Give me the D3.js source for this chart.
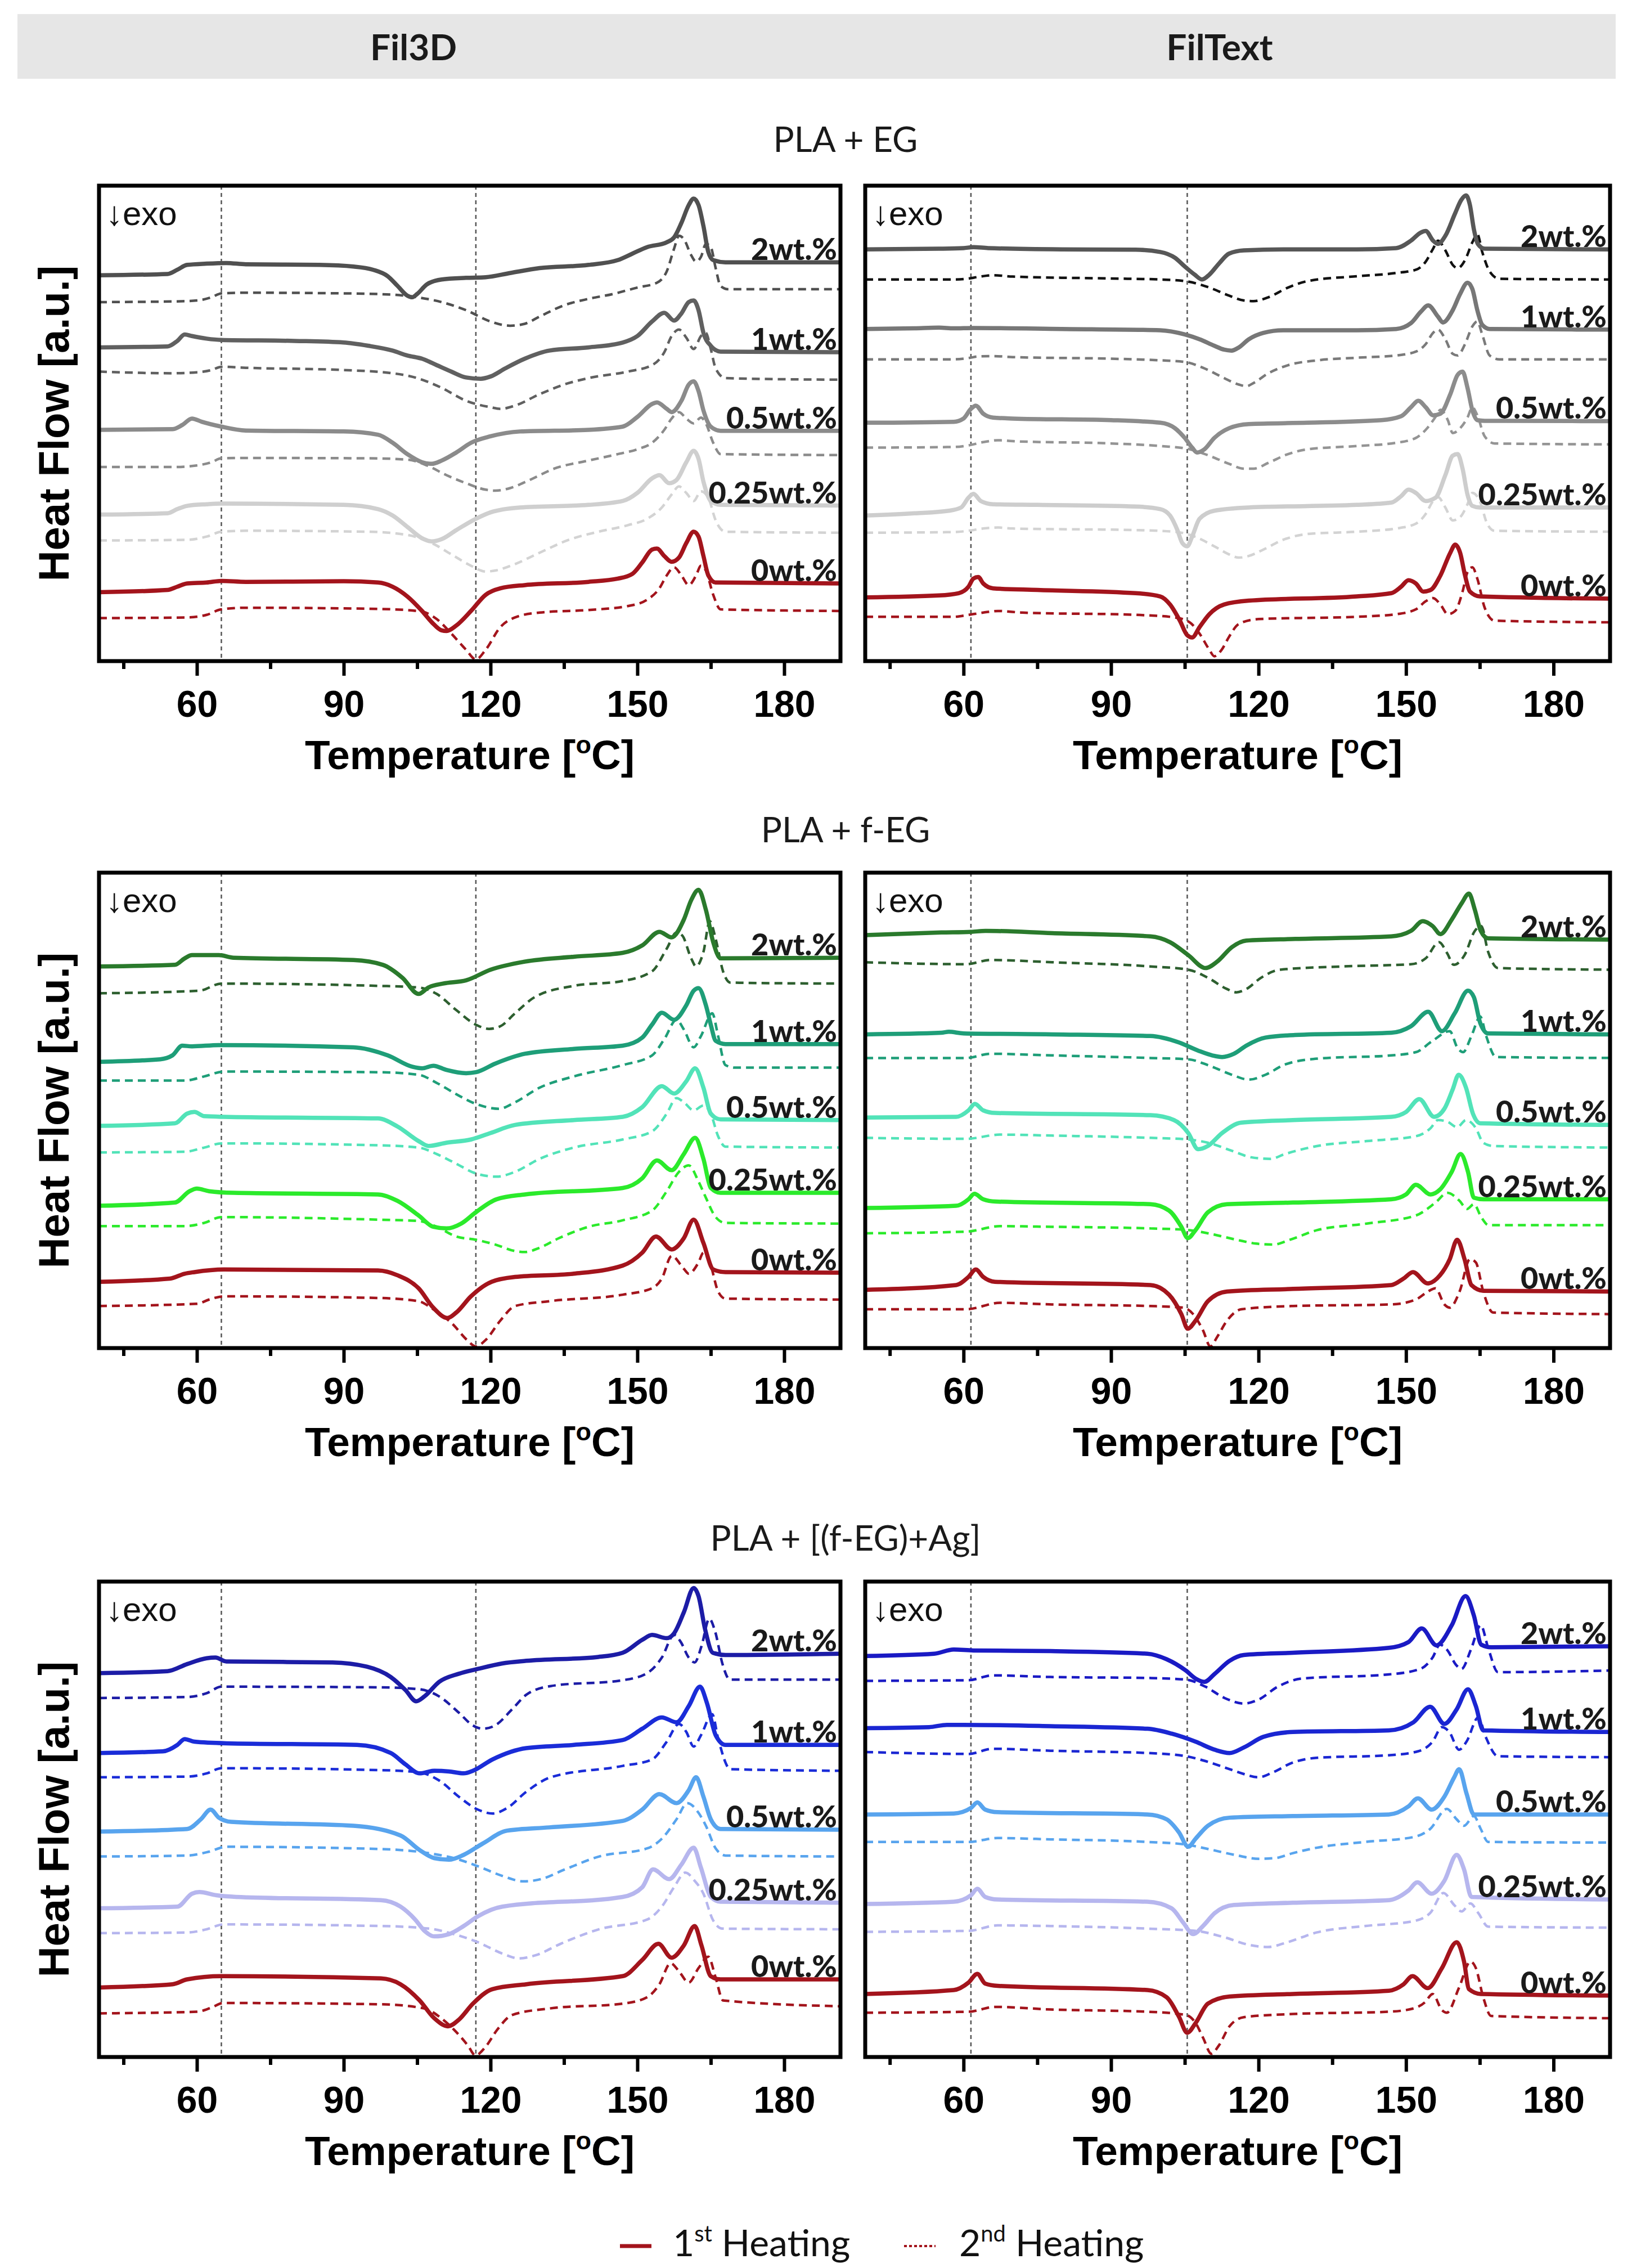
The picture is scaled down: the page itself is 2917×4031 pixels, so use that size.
<!DOCTYPE html>
<html>
<head>
<meta charset="utf-8">
<script src="https://cdn.jsdelivr.net/npm/d3@7"></script>
<style>
  body { margin: 0; background: #fff; }
</style>
</head>
<body>
<div id="chart"></div>
<script>
// ---- labels ----
var filaments = ["Fil3D", "FilText"];
var groups = ["PLA + EG", "PLA + f-EG", "PLA + [(f-EG)+Ag]"];
var loadings = ["2wt.%", "1wt.%", "0.5wt.%", "0.25wt.%", "0wt.%"];
var majorTicks = [60, 90, 120, 150, 180];
var minorTicks = [45, 75, 105, 135, 165];
var refLines = [[65, 117], [61.5, 105.5]];   // Fil3D, FilText

// ---- PLA + EG, Fil3D  [T (degC), heat flow (a.u.)] ----
var eg3d_2_h1 = [[40,119.3],[54,119.7],[56,121],[58,122.5],[62,122.9],[66,123.1],[70,122.7],[85,122.5],[92,122],[96,121],[99,119],[101,116],[103,113],[104,112.5],[105,113.5],[107,116.5],[110,118],[115,118.5],[119,118.7],[124,120],[130,121.5],[140,122.5],[146,124],[149,126],[152,128],[156,129.5],[157.5,131],[159,135.5],[160.5,141],[161.5,143],[162.5,141],[163.5,134.5],[164.5,126.5],[165.5,124],[168,123.3],[191.5,123.3]];
var eg3d_2_h2 = [[40,111],[55,111.2],[60,111.5],[63,112.5],[65,113.7],[70,113.9],[90,113.7],[100,113.3],[105,112.5],[110,111],[115,108.5],[120,105],[124,103.7],[127,104.3],[130,106.5],[135,110],[140,112],[145,113.5],[150,115.5],[154,117],[156,120.5],[157.5,127.5],[158.5,131.5],[159.5,130.5],[161,125.5],[162,123.5],[163,125],[164,129],[165,128],[166,121.5],[167,116],[168.5,115],[191.5,115]];
var eg3d_1_h1 = [[40,97],[54,97.3],[56,99],[57.5,101],[59,100.5],[62,99.7],[65,99.3],[80,99],[90,98.5],[95,97.5],[100,96],[103,94.5],[106,93.5],[109,91.5],[112,89.5],[115,87.7],[118,87.3],[120,88],[123,90.5],[127,93.5],[132,96],[140,97],[147,98.5],[150,100.5],[153,105],[155.5,107.7],[157.5,105.3],[159,107.5],[160.5,111],[161.5,111.5],[162.5,108.5],[163.5,101.5],[165,97.5],[167,95.7],[191.5,95.5]];
var eg3d_1_h2 = [[40,89.5],[55,89],[60,89.3],[63,90],[65,91],[70,90.7],[90,90],[100,89],[105,87.5],[110,84.5],[115,80.5],[120,78.5],[122,78],[125,79],[130,82.5],[135,85.5],[140,87.5],[148,89.5],[153,91.5],[155.5,95.5],[157,100.5],[158.5,102.5],[160,100],[161.5,96.5],[163,100.5],[164,101.5],[165,96.5],[166,90.5],[168,87.5],[191.5,87]];
var eg3d_05_h1 = [[40,71.5],[55,71.7],[57,73],[59,75],[61,74],[65,72.5],[70,71.3],[90,71],[97,70],[100,67.5],[103,64],[106,61.5],[108,61],[110,62],[113,64.5],[116,67.5],[120,69.5],[126,71],[140,71.5],[147,72.5],[150,75.5],[153,79.5],[154,80],[156,78],[157,77],[159,80.5],[160.5,85.5],[161.5,86.5],[162.5,83.5],[163.5,77.5],[165,72.5],[167,71.2],[191.5,71.2]];
var eg3d_05_h2 = [[40,60],[55,60],[60,60.5],[63,61.5],[65,62.7],[70,62.8],[95,62.7],[103,62.3],[107,60.5],[111,57.5],[115,55],[119,53],[121,52.7],[124,53.5],[128,56],[133,59.5],[140,62],[146,64],[150,65.5],[153,67.5],[155.5,71.5],[157,75],[158.5,77],[160,75],[161.5,73.5],[163,75.3],[164,73.5],[165.5,67.5],[167,64],[191.5,63.7]];
var eg3d_025_h1 = [[40,45.3],[54,45.7],[56,47],[58,48],[62,48.5],[65,48.7],[90,48.3],[97,47],[100,45],[103,41.5],[106,38],[108,37],[110,37.7],[113,40.5],[117,44],[120,46],[126,47.5],[140,48.3],[147,49.5],[150,52],[153,56.5],[154.5,57.5],[156.5,55],[158,56],[160,61.5],[161.5,65],[162.5,62.5],[163.5,55.5],[165,49.5],[167,48.3],[191.5,48.1]];
var eg3d_025_h2 = [[40,37.3],[58,37.5],[62,38.5],[65,40],[70,40.3],[95,40],[103,39],[108,36.5],[112,33],[116,29.5],[119,27.7],[121,28],[125,30],[130,33.5],[136,37.5],[142,40],[148,42],[152,44],[155,47.5],[157,51.5],[158.5,54],[160,52],[161.5,49.5],[163,52.5],[164.5,50.5],[166,43.5],[168,40],[191.5,39.7]];
var eg3d_0_h1 = [[40,21.3],[54,22],[56,23],[58,24],[62,24.3],[65,24.8],[70,24.5],[90,24.7],[97,24.3],[100,23],[103,20],[106,15.5],[108,12],[110,9.5],[111,9.3],[113,11],[116,15.5],[119,20.5],[122,22.5],[127,23.5],[140,24.5],[146,25.5],[149,27],[151,30.5],[153,34.5],[154,34.8],[155.5,32.5],[157,30.7],[158.5,32],[160,36.5],[161.5,40],[162.5,38.5],[163.5,32.5],[164.5,26.5],[166,24.3],[191.5,24]];
var eg3d_0_h2 = [[40,13.3],[58,13.5],[62,14.3],[65,16],[70,16.5],[90,16.3],[100,16],[106,15.3],[109,13],[112,8.5],[115,3.5],[117,0.5],[119,3.5],[122,10.5],[125,13.5],[130,15],[140,15.8],[148,17],[152,19],[154.5,22.5],[156,26.5],[157.5,29],[159,26.5],[160.5,23.5],[162,26.5],[163,29.5],[164,28],[165.5,20.5],[167,16],[191.5,15.5]];

// ---- PLA + EG, FilText ----
var egtx_2_h1 = [[40,127.3],[55,127.5],[60,127.7],[62,128],[65,127.7],[80,127.3],[95,127.2],[100,126.5],[103,124.7],[105,122],[107,119.5],[108.5,118],[110,119.5],[112,123],[114,126],[117,127],[125,127.3],[140,127.3],[148,127.7],[151,130],[153,132.5],[154,133],[155.5,130],[156.5,129],[158,131.5],[160,138.5],[161.2,142.5],[162.2,144],[163,141],[163.8,133.5],[164.6,129],[166,127.5],[191.5,127.3]];
var egtx_2_h2 = [[40,118],[58,118],[61,118.3],[63,118.8],[66,119.3],[70,118.9],[90,118.3],[100,118],[105,117.5],[110,115.5],[114,113],[117,111.5],[119,111.3],[122,112.5],[126,115.5],[130,117.5],[140,119],[148,120],[152,121],[154,123.5],[155.5,127.5],[156.5,130],[158,127],[159.5,122.5],[160.5,121.5],[162,124],[163.5,129.5],[164.5,132],[165.5,126.5],[167,120.5],[169,118.2],[191.5,118]];
var egtx_1_h1 = [[40,102.7],[50,102.9],[55,103.1],[58,102.9],[62,103],[80,102.7],[100,102.3],[105,101],[108,99.5],[111,97.5],[113,96.3],[114.5,96],[116,97],[118,99.5],[121,101.5],[125,102.3],[140,102.3],[148,102.7],[151,104.5],[153,108],[154.5,110],[156.5,106.5],[157.5,104.7],[159.5,108.5],[161,113.5],[162.5,117],[163.5,115],[164.5,108.5],[165.5,104],[167,102.7],[191.5,102.5]];
var egtx_1_h2 = [[40,93.3],[58,93.3],[61,93.7],[63,94.2],[66,94.3],[70,94],[90,93.5],[100,93],[105,92.5],[109,90.5],[113,87.5],[116,85.5],[117.5,85],[119,86],[122,89],[126,91.5],[132,93],[140,93.8],[148,94.5],[152,95.7],[154,98],[155.5,101.5],[156.5,102.5],[158,99.5],[159.5,95],[160.5,94.5],[162,98],[163.5,103.5],[164.5,105],[165.5,101],[167,94.5],[169,93.3],[191.5,93.3]];
var egtx_05_h1 = [[40,73.7],[58,74],[60,75],[61.5,78],[62.5,79],[64,76.5],[66,75.3],[70,75],[90,74.5],[100,73.7],[103,72],[105,69],[106.5,66],[107.5,64.5],[109,65.5],[111,69],[114,72],[118,73.3],[130,73.7],[145,74.5],[149,75.7],[151,78.5],[152.5,80.5],[154,78.5],[155.5,76],[157,76.5],[159,82.5],[160.5,88.5],[161.5,89.5],[162.5,84.5],[163.5,77.5],[164.5,74.5],[166,74.3],[191.5,74.2]];
var egtx_05_h2 = [[40,66],[58,66.2],[61,66.7],[64,67.7],[67,68.3],[70,68],[90,67.3],[100,66.5],[106,65.5],[110,63.5],[114,61],[117,59.5],[119,59.5],[122,61.3],[126,64],[130,65.5],[140,66.5],[148,67.5],[152,69],[154,71.5],[156,75.5],[157,77.7],[158.5,74.5],[159.5,70.5],[161,72],[162.5,75.3],[163.5,78.5],[164.5,76],[166,69.5],[168,67.3],[191.5,67]];
var egtx_025_h1 = [[40,45],[50,45.7],[57,46.5],[59.5,47.5],[61,50.5],[62,51.7],[63.5,49.5],[66,48.5],[75,48.3],[95,47.8],[100,47],[102,45],[103.5,40.5],[104.5,36.5],[105.5,35.5],[106.5,38.5],[108,44],[111,46.5],[118,47.5],[140,48.3],[147,49],[149,51],[150.5,53],[152,52],[154,49.5],[156,50.5],[158,57.5],[159.5,63.5],[160.5,64],[161.5,59.5],[162.5,51.5],[163.5,48],[165,47.5],[191.5,47.5]];
var egtx_025_h2 = [[40,39.7],[58,39.9],[61,40.3],[64,41],[67,41.3],[70,41],[95,40.5],[103,40],[107,38.5],[111,35.5],[114,33],[116,32],[118,32.5],[121,34.5],[125,37.5],[130,39.3],[140,40],[148,41],[152,42.5],[154,45.5],[155.5,49.5],[156.5,50.7],[158,47.5],[159.5,43.5],[161,44.5],[162.5,48.5],[163.5,52],[165,49.5],[166.5,42.5],[168,40.3],[191.5,40]];
var egtx_0_h1 = [[40,19.7],[55,20.3],[59,21],[61,23],[62,25.5],[63,26],[64,24],[66,22.5],[75,22],[95,21],[100,20],[102,17.5],[104,12.5],[105.5,8],[106.5,7.3],[108,10.5],[110,14.5],[113,17.5],[118,18.7],[140,20],[147,21],[149,23],[150.5,25],[152,24],[153.5,21.5],[155,22],[157,26.5],[159,33.5],[160,36],[161,33.5],[162,26.5],[163,21.5],[165,20],[191.5,19.3]];
var egtx_0_h2 = [[40,13.7],[58,13.7],[61,14.3],[64,15],[67,15.5],[72,15],[95,14.3],[103,13.5],[106,12],[108,8.5],[110,3.5],[111,1.5],[112.5,3.5],[114,7.5],[116,11.5],[120,13],[140,13.7],[148,14.5],[152,16],[154,18.5],[155.5,19.5],[157,17.5],[158.5,14.5],[160,15.5],[161.5,21.5],[162.5,27.5],[163.5,29],[164.5,25.5],[166,16.5],[168,12.5],[191.5,12]];

// ---- PLA + f-EG, Fil3D ----
var feg3d_2_h1 = [[40,118],[55.5,118.5],[57.5,120.5],[59,121.5],[64.5,121.5],[67.5,120.7],[92,120],[98,118.5],[102,114.5],[105.3,109.5],[107.3,111.5],[110.3,112.7],[115,113.7],[120,117],[127,119.5],[137,121],[147,122.2],[151,124.5],[154.5,128.7],[157,127],[159.5,132.5],[161,138.5],[162.5,141.7],[164,135.5],[165.5,125.5],[167,120.5],[191.5,120.7]];
var feg3d_2_h2 = [[40,109.7],[60.5,110.5],[65,112.7],[97,112],[105.3,111.5],[109,109.5],[113,104.5],[117,100],[119.7,98.7],[122,99.5],[125,103.5],[129,108.5],[137,112],[147,113.5],[153,116.5],[156,123.5],[158,128.5],[159.2,127.5],[161,120.5],[162,118],[163.5,122.5],[164.8,132],[166,126.5],[167.5,116.5],[169,113],[191.5,112.7]];
var feg3d_1_h1 = [[40,88.5],[52.5,89.3],[55,90.5],[57,93.5],[59,93.3],[64.5,93.7],[92,93],[99,90.5],[104,87],[106,86.5],[108.3,87.3],[111,86],[115,85],[117,85.3],[121,88],[127,91],[137,92.5],[147,93.5],[151,96],[153,100],[155,103.7],[157.5,101.5],[160,106],[161.5,110.5],[162.5,111.3],[164,106],[165,100],[166,95],[168,94],[191.5,94]];
var feg3d_1_h2 = [[40,82.7],[57.5,82.7],[61.5,84],[65.5,85.5],[97,85.3],[105.3,84.5],[109,82],[113,78.5],[117,75.5],[121.7,74],[125,76],[130,80.5],[137,84],[147,87.5],[153,90.5],[155.5,95.5],[158,101.5],[159.5,98.5],[161.5,93],[163,96.5],[165.3,103.5],[166.5,96.5],[168,87.5],[170,86.7],[191.5,86.7]];
var feg3d_05_h1 = [[40,68.7],[55.5,69.5],[58,72.5],[59.5,73],[61.5,71.7],[65.5,71.5],[97,71],[101,68.5],[105.3,64],[107.3,62.5],[111,63.5],[116,64.5],[120,66.5],[125,69],[137,70.5],[147,71.5],[151,74.5],[155,81],[157.5,78.7],[160,82.5],[161.8,86.5],[163.5,80.5],[165,72.5],[167,70.7],[191.5,70.5]];
var feg3d_05_h2 = [[40,60.5],[57.5,60.7],[61.5,62],[65,63.3],[97,62.7],[105.3,62],[109,60],[113,57],[117,54],[121.2,53],[125,54.5],[130,58.5],[137,62],[147,64.5],[153,67],[156,72.5],[158,77.3],[159.5,76],[161.5,73.5],[163.5,75],[165,72.5],[166.5,65.5],[168,62.3],[191.5,62]];
var feg3d_025_h1 = [[40,44],[55.5,45],[58.5,48.5],[60,49.3],[62.5,48.5],[67.5,48],[97,47.5],[101,45.5],[105.3,41],[108.3,37.5],[111,37],[114,38.5],[117,42],[121.2,46],[127,47.5],[147,49.5],[151,52.5],[154,58],[157,55],[159.5,60],[161.8,65],[163.5,58.5],[165,49.5],[167,48],[191.5,48]];
var feg3d_025_h2 = [[40,37.7],[57.5,37.7],[61.5,38.7],[65,40.5],[97,39.7],[105.3,39.3],[109,37.5],[113,34.5],[117,33.5],[121,32],[125,30],[127,29.7],[130,31],[134,34],[140,37.5],[147,39.5],[153,42.5],[156,48.5],[158.5,54.5],[160.5,56.5],[162.5,51.5],[164,46.5],[166,40.5],[168,38.7],[191.5,38.5]];
var feg3d_0_h1 = [[40,20.5],[54.5,21.5],[57.5,23],[59.5,23.5],[65.5,24.3],[97,24],[101,22.5],[105.3,18.5],[108.3,12.5],[111.2,9.3],[113,11],[116,16],[120.2,20.5],[125,22],[137,23],[147,25.5],[151,29.5],[153.8,34.5],[157,30.5],[159.5,34],[161.5,39.7],[163.5,32.5],[165.5,24.3],[168,23.5],[191.5,23.3]];
var feg3d_0_h2 = [[40,13],[60,13.7],[62.5,15],[65.5,16],[97,15.5],[105.3,14.5],[108.3,12],[112.2,7.5],[115.2,2.5],[117,0.5],[119,2.5],[122,8.5],[125,13],[132,14.5],[147,16.5],[153,18.5],[155,21.5],[157,28.5],[159.5,24.5],[160.5,23],[162.5,26.5],[163.5,29.5],[165,25.5],[166.5,17.5],[168,15.3],[191.5,15]];

// ---- PLA + f-EG, FilText ----
var fegtx_2_h1 = [[40,127.7],[55.5,128.5],[61.5,128.7],[64.5,129],[78,128.3],[98,127.3],[102,125.5],[105.7,121.5],[109.2,117.5],[111.6,119.5],[114.6,124],[117.5,126],[127.5,126.5],[147,127.3],[151,129],[153.4,132],[155.4,130.5],[157,128],[159.3,132.5],[161.3,137.5],[162.8,140.5],[164,135.5],[165.2,129],[166.7,126.7],[191.5,126.3]];
var fegtx_2_h2 = [[40,119.3],[60.5,118.7],[65.5,120],[78,119.3],[98,118],[105.7,117],[109.7,114.5],[113.6,111],[115.5,110],[117.5,111],[120.5,114.5],[124.4,117],[137,118],[151,118.7],[154,120.5],[156.7,125.5],[158.4,122],[159.7,118.5],[161.9,121.5],[164,129],[165.3,130.5],[166.7,122.5],[168.7,117.5],[191.5,117]];
var fegtx_1_h1 = [[40,97],[55.5,97.5],[57,97.8],[60,97.3],[78,97],[98,96.5],[103.8,94.5],[107.7,92],[110.6,90.5],[112.6,90],[115,91],[117.5,93.5],[121.4,96],[127.4,96.8],[147,97.5],[151,99.5],[154.5,104],[157.3,98],[159.9,103.5],[162.6,110.5],[163.8,108.5],[165.1,100.5],[166.7,97.3],[191.5,97]];
var fegtx_1_h2 = [[40,89.7],[60.5,89.7],[65.5,91],[78,90.5],[98,89.7],[105.7,89.3],[109.7,87.5],[114.6,84.5],[118,83],[121.4,84.5],[125.4,87.7],[132,89.5],[147,90.5],[152,91.5],[155.4,95],[158.9,98],[160.4,93],[161.6,91.5],[163.3,96.5],[165.1,102.5],[166.3,96.5],[168.3,90],[191.5,89.7]];
var fegtx_05_h1 = [[40,71.3],[58.5,71.5],[61,73.5],[62.3,75.5],[64,73.5],[66.4,72.7],[98,72],[102.8,70.5],[105.7,66.5],[107.7,61.5],[109.7,62.5],[112.6,66.5],[116.5,69.7],[127,70.5],[147,71.5],[150,73],[152.7,77],[155.7,71.5],[157.8,74],[159.5,80],[160.7,84.5],[162.2,80.5],[163.6,72.5],[165.1,69.5],[191.5,69]];
var fegtx_05_h2 = [[40,65],[60.5,64.7],[67.4,66],[78,65.7],[98,65],[105.7,64.5],[109.7,63.5],[114.6,61],[118.5,59],[122.4,58.5],[125.4,60],[132,62.5],[142,64],[152,65.5],[155,68],[156.5,70.5],[158.4,70],[160.4,68.3],[162.2,70.5],[164.2,68],[165.7,63.5],[167.7,62.5],[191.5,62]];
var fegtx_025_h1 = [[40,43.3],[58.5,44],[61,46],[62.2,47.7],[64,46],[66.5,45.3],[98,44.5],[101.8,42.5],[104.3,37.5],[105.6,34],[107.2,36.5],[109.7,42],[113.6,44.5],[127,45],[147,46],[150,47.5],[152,50.5],[155,47.5],[156.9,49],[159.3,54.5],[161.1,60],[162.6,54.5],[163.8,46.5],[165.8,46],[191.5,46]];
var fegtx_025_h2 = [[40,35.5],[60.5,36],[67.4,37.7],[78,37.5],[98,37],[105.7,36.5],[109.7,35.5],[115.5,33.5],[119.5,32.3],[123,32],[126.4,33.5],[132,36.5],[142,38.5],[152,41],[156,45],[158.4,48],[160.9,45.5],[162.4,43],[163.8,44.5],[165.3,40.5],[166.8,38],[191.5,38]];
var fegtx_0_h1 = [[40,18],[58.5,19.5],[61,22],[62.5,24.3],[64,22],[66.4,20.5],[98,19.5],[101.8,16.5],[104.3,10.5],[105.6,6],[107.2,8.5],[109.7,14.5],[113.6,17.5],[127,18.3],[147,19.5],[149.5,21.5],[151.4,23.5],[154.4,20],[156.9,22.5],[158.9,27.5],[160.4,33.5],[161.9,27.5],[163.3,19.5],[165.8,17.7],[191.5,17.5]];
var fegtx_0_h2 = [[40,12],[60.5,12],[67.4,14],[78,13.5],[98,13],[104.7,12.5],[106.7,10.5],[108.7,5.5],[110.2,0.5],[111.6,3.5],[113.6,8.5],[116.5,12],[127,13],[147,13.5],[152,15],[154,17],[156,18.5],[157.8,13.5],[158.9,12.5],[160.9,17.5],[163,27.5],[164.2,26.5],[165.7,17.5],[167.7,11],[191.5,10.5]];

// ---- PLA + [(f-EG)+Ag], Fil3D ----
var ag3d_2_h1 = [[40,118.7],[54,119.3],[58,121.5],[62,123.3],[63.8,123.5],[66,122.3],[87.7,122],[94.7,120.7],[99.6,117.5],[102.6,113.5],[104.8,110],[106.5,111.5],[109.5,116],[113.5,118.5],[117.4,120],[122.4,121.7],[127.3,122.5],[142,123.7],[147,125],[151,129],[153,130.5],[156,129.5],[157.5,131],[159.5,137.5],[161.5,145],[162.5,142.5],[163.8,132.5],[165.4,125],[168,124.3],[191.5,124.7]];
var ag3d_2_h2 = [[40,111],[58,111.3],[62,112.5],[65,114.5],[97.6,114.3],[105.5,113.7],[109.5,111.5],[113.5,106.5],[116.4,102.5],[118.4,101.5],[120.9,102.5],[124.4,107.5],[127.3,112],[132.3,114.7],[147,116.5],[152,118.7],[155,123.5],[157.5,130.5],[158.8,128.5],[160.5,123.5],[161.7,122],[163.1,127],[164.7,135.5],[165.9,131.5],[167.4,121.5],[168.9,116.7],[191.5,116.7]];
var ag3d_1_h1 = [[40,94],[53,94.5],[56,96.5],[57.5,98.3],[59.5,97.5],[66,97],[92.7,96.5],[99.6,94],[102.6,90.5],[105.5,87.7],[108.5,88.5],[111.5,88.3],[114.5,87.7],[116.4,88.5],[120.4,92],[127.3,95.5],[137,96.5],[147,98],[151,101.5],[155,105],[158,103.5],[160.5,108.5],[162.8,114.5],[164.2,109.5],[166,99.5],[168,96.5],[191.5,96.5]];
var ag3d_1_h2 = [[40,86.5],[58,86.7],[62,87.7],[65,89.3],[97.6,88.7],[105.5,88],[109.5,85.5],[113.5,80.5],[117.4,76.5],[120.4,75.3],[123.4,77],[127.3,82],[132.3,86.5],[147,90],[153,92],[156,97.5],[158.5,103],[160,100.5],[161.5,96],[163,99.5],[165.3,106],[166.5,98.5],[169,89],[191.5,88.5]];
var ag3d_05_h1 = [[40,69.7],[58,70.5],[60.8,73.5],[62.8,76.5],[64.5,74],[67,72.7],[92,71.5],[101.6,68.5],[105.5,64],[108.5,61.5],[111.5,61],[114.5,62.5],[118.4,66],[123.4,70],[132,71],[147,73],[151,76.5],[154.5,81.3],[158,78.5],[160.5,82.5],[162,86.5],[163.5,80.5],[165,73.5],[167,70.5],[191.5,70.3]];
var ag3d_05_h2 = [[40,62],[58,62.3],[62.5,63.5],[66,65],[97.6,64.3],[107.5,63],[112.5,61.5],[117.4,59],[122.4,56],[126.8,54.3],[130.3,55],[135.2,58],[142.2,62],[152,64.5],[155,67.5],[158,73.5],[160.2,78.5],[162.5,75.5],[164,71.5],[166,64.5],[168,62.3],[191.5,62]];
var ag3d_025_h1 = [[40,46],[56,46.5],[59,50.5],[60.5,51],[64,50],[68,49.5],[97.6,48.5],[101.6,46.5],[104.6,42.5],[106.5,39],[108.5,37.3],[111.5,38],[114.5,40.5],[117.4,43.5],[122.4,46.5],[147,49.5],[151,52.5],[153.2,58],[156.5,55],[159,59.5],[161.5,64.7],[163,58.5],[165,49.5],[167,48],[191.5,47.7]];
var ag3d_025_h2 = [[40,38.3],[58,38.5],[62,39.5],[65.4,41],[97.6,40.5],[107.5,39.7],[112.5,38],[117.4,35.5],[122.4,32],[125.8,30.5],[129.3,31.5],[134.3,35],[142.2,39.5],[152,42.5],[155,46.5],[157.5,52.5],[159.8,57],[161.7,54.5],[163.5,50.5],[165.4,42.5],[167.4,39.7],[191.5,39.5]];
var ag3d_0_h1 = [[40,21.5],[55,22.5],[58,24],[65,25],[97.6,24.3],[101.6,22.5],[105.5,17.5],[108.5,12],[111.3,9.5],[113.5,11.5],[116.4,16.5],[120.4,21],[127.3,22.5],[147,25],[151,30],[154.3,35],[157,30.7],[159.5,34.5],[161.7,40.5],[163.1,34.5],[165,25],[167,24],[191.5,24]];
var ag3d_0_h2 = [[40,13.5],[60,14],[63,15.3],[65.4,16.7],[97.6,16.3],[106.5,15],[109.5,12.5],[112.5,8.5],[115.4,3.5],[116.9,0.5],[118.9,3],[121.4,8.5],[124.4,13],[132,15],[147,16.5],[152,18.5],[154.5,22.5],[156.8,29],[158.5,26.5],[160.5,23],[162.5,27.5],[164.5,31],[166,24.5],[167.5,17.5],[191.5,15.7]];

// ---- PLA + [(f-EG)+Ag], FilText ----
var agtx_2_h1 = [[40,124],[54,124.7],[58,126],[62,125.7],[77.7,125.5],[97.4,124.7],[101.3,123],[105.2,119.5],[107.2,117],[109,116],[111.1,118.5],[114.1,122.5],[117,124.3],[127,125],[146.5,126.5],[150.5,128.3],[153.2,132.5],[156.2,127.3],[159.3,133.5],[162.1,142.5],[163.8,136.5],[165.3,127.5],[167.3,126.7],[191.5,127]];
var agtx_2_h2 = [[40,116.3],[61,116.5],[65.9,118],[77.7,117.5],[97.4,117.2],[105.2,116.7],[109.2,114.5],[113.1,111],[117,109.3],[120,110.5],[123.9,114.5],[128.8,117],[146.5,118.3],[152.9,120],[155.4,123.5],[156.9,127.5],[158.3,126],[160.3,121],[161.3,120],[163.2,126],[165.2,133.5],[166.7,126.5],[168.7,119],[191.5,119.5]];
var agtx_1_h1 = [[40,101.7],[53,102],[56.6,102.7],[60,102.7],[77.7,102.3],[97.4,101.5],[102.3,100],[107.2,97.5],[111.1,95],[114.1,94],[117,95.7],[121,99],[127,100.5],[146.5,101],[151.5,103.5],[154.9,108.3],[157.8,103],[160.3,107.5],[162.6,113.7],[164.2,108.5],[165.7,101],[191.5,100.5]];
var agtx_1_h2 = [[40,94.3],[61,93.7],[65.9,95.3],[77.7,94.7],[97.4,94],[105.2,93],[109.2,91.5],[114.1,89],[117,87.5],[120,86.5],[122.9,88],[126.9,91],[131.8,92.5],[146.5,93.3],[152.4,94.5],[155.4,97.5],[157.3,102],[158.8,100.5],[160.8,95],[162.3,97.5],[164.7,105],[166.2,99],[168.7,93],[191.5,92.7]];
var agtx_05_h1 = [[40,75],[58,75.3],[61.5,77],[62.8,78.7],[64.4,76.5],[66.9,75.7],[97.4,75],[101.3,73.5],[103.8,69.5],[105.7,65],[107.2,67.5],[109.7,71.5],[114.1,74],[127,74.5],[146.5,75],[150.5,77.5],[152.4,80],[155.2,76.5],[157.8,80.5],[159.8,86.5],[160.8,89],[162.3,81.5],[163.8,75],[191.5,75]];
var agtx_05_h2 = [[40,66.5],[61,66.5],[66.9,67.7],[77.7,67.3],[97.4,66.5],[105.2,65.7],[109.2,64.5],[115.1,62.5],[120,61.3],[123.4,61.5],[126.9,63],[131.8,64.7],[141.6,66.5],[151.5,68],[154.9,70.5],[158.3,76.7],[160.3,73.5],[161.8,71.5],[163.8,74.5],[165.2,70.5],[166.7,66.5],[191.5,66.3]];
var agtx_025_h1 = [[40,47.3],[58,48],[61.5,50],[62.8,52],[64.4,49.5],[66.9,48.7],[97.4,48],[102.3,46],[104.7,41.5],[106.7,38],[108.7,40.5],[111.1,44.5],[115,47],[127,47.7],[146.5,48.5],[150.5,51.5],[152.3,54],[155.2,50.5],[157.8,54.5],[160.3,62.5],[161.8,58],[163.3,49.5],[191.5,48.7]];
var agtx_025_h2 = [[40,38.7],[61,39],[66.9,40.7],[77.7,40.5],[97.4,39.7],[107.2,39],[113.1,37],[118,34.7],[121.9,34],[125.9,35.5],[131.8,38.5],[141.6,40.5],[151.5,42],[154.9,44.5],[157.6,50.7],[159.8,47],[161.3,45],[163.1,47.5],[164.7,44.5],[166.7,40.3],[191.5,40]];
var agtx_0_h1 = [[40,19.5],[58,20.7],[61,23],[62.8,25.7],[64.4,22.7],[66.9,22],[97.4,20.7],[101.3,18.5],[103.8,12.5],[105.5,7.5],[107.2,10.5],[109.7,16.5],[114.1,18.7],[127,19.5],[146.5,20.5],[149.5,22.5],[151.3,25],[154.4,21.3],[157.3,27.5],[160.3,35.5],[161.8,29.5],[162.8,21],[165.2,19.5],[191.5,19]];
var agtx_0_h2 = [[40,13.7],[61,14],[66.4,15.5],[77.7,14.7],[97.4,14],[105.2,13],[107.2,10.5],[108.7,6],[110.4,1],[111.9,3.5],[114.1,9.5],[117,12.3],[127,13.3],[146.5,14],[151.5,15],[153.9,17],[155.4,19.5],[157.3,14.5],[158.3,13.7],[160.8,21.5],[163.1,29.5],[164.2,27.5],[165.7,18.5],[167.3,12.7],[191.5,12]];

// ---- colours (solid = 1st heating, dashed = 2nd heating) ----
var red = "#a3141c";
var solidColors = [
  [["#505050", "#606060", "#8b8b8b", "#cfcfcf", red], ["#575757", "#777777", "#8c8c8c", "#cdcdcd", red]],
  [["#2a7a2c", "#1e9e78", "#52e3b8", "#2bea2b", red], ["#2a7a2c", "#1e9e78", "#52e3b8", "#2bea2b", red]],
  [["#1c1ca6", "#1a2cd8", "#58a4ee", "#b6b6ee", red], ["#1a1ac4", "#1a26d2", "#58a4ee", "#b6b6ee", red]]
];
var dashColors = [
  [["#505050", "#606060", "#8b8b8b", "#d3d3d3", red], ["#111111", "#7a7a7a", "#949494", "#d3d3d3", red]],
  [["#2d5f2f", "#1e9e78", "#52e3b8", "#2bea2b", red], ["#2d5f2f", "#1e9e78", "#52e3b8", "#2bea2b", red]],
  [["#1c1ca6", "#1a2cd8", "#58a4ee", "#b6b6ee", red], ["#1a1ac4", "#1a26d2", "#58a4ee", "#b6b6ee", red]]
];

var panelData = [
  [
    [[eg3d_2_h1, eg3d_2_h2], [eg3d_1_h1, eg3d_1_h2], [eg3d_05_h1, eg3d_05_h2], [eg3d_025_h1, eg3d_025_h2], [eg3d_0_h1, eg3d_0_h2]],
    [[egtx_2_h1, egtx_2_h2], [egtx_1_h1, egtx_1_h2], [egtx_05_h1, egtx_05_h2], [egtx_025_h1, egtx_025_h2], [egtx_0_h1, egtx_0_h2]]
  ],
  [
    [[feg3d_2_h1, feg3d_2_h2], [feg3d_1_h1, feg3d_1_h2], [feg3d_05_h1, feg3d_05_h2], [feg3d_025_h1, feg3d_025_h2], [feg3d_0_h1, feg3d_0_h2]],
    [[fegtx_2_h1, fegtx_2_h2], [fegtx_1_h1, fegtx_1_h2], [fegtx_05_h1, fegtx_05_h2], [fegtx_025_h1, fegtx_025_h2], [fegtx_0_h1, fegtx_0_h2]]
  ],
  [
    [[ag3d_2_h1, ag3d_2_h2], [ag3d_1_h1, ag3d_1_h2], [ag3d_05_h1, ag3d_05_h2], [ag3d_025_h1, ag3d_025_h2], [ag3d_0_h1, ag3d_0_h2]],
    [[agtx_2_h1, agtx_2_h2], [agtx_1_h1, agtx_1_h2], [agtx_05_h1, agtx_05_h2], [agtx_025_h1, agtx_025_h2], [agtx_0_h1, agtx_0_h2]]
  ]
];

// ---- layout ----
var width = 2917, height = 4031;
var colX = [[176, 1494], [1538, 2862]];
var rowTop = [330, 1551, 2811];
var rowTitleY = [248, 1475, 2734];
var panelH = 845;
var boldFont = "'Liberation Sans', Arial, sans-serif";
var softFont = "Lato, 'Open Sans', 'DejaVu Sans', sans-serif";

var svg = d3.select("#chart")
  .append("svg")
  .attr("width", width)
  .attr("height", height)
  .style("background", "#fff");

// header strip
svg.append("rect")
  .attr("x", 31).attr("y", 25)
  .attr("width", 2841).attr("height", 115)
  .attr("fill", "#e6e6e6");

svg.selectAll(".col-head")
  .data(filaments).enter().append("text")
    .attr("class", "col-head")
    .attr("x", function(d, i) { return i == 0 ? 735 : 2168; })
    .attr("y", 85)
    .attr("dy", "0.35em")
    .attr("text-anchor", "middle")
    .style("font-family", softFont)
    .style("font-weight", 700)
    .style("font-size", "64px")
    .style("fill", "#1a1a1a")
    .text(function(d) { return d; });

var line = d3.line().curve(d3.curveMonotoneX);

function drawPanel(r, c) {
  var x0 = colX[c][0], x1 = colX[c][1];
  var top = rowTop[r], bottom = top + panelH;

  var x = d3.scaleLinear().domain([40, 191.5]).range([x0, x1]);
  var y = d3.scaleLinear().domain([0, 147]).range([bottom, top]);

  var g = svg.append("g").attr("class", "panel-" + r + "-" + c);
  var clipId = "clip-" + r + "-" + c;

  g.append("clipPath").attr("id", clipId)
    .append("rect")
      .attr("x", x0).attr("y", top)
      .attr("width", x1 - x0).attr("height", panelH);

  // reference temperatures
  g.selectAll(".ref")
    .data(refLines[c]).enter().append("line")
      .attr("class", "ref")
      .attr("x1", function(d) { return x(d); })
      .attr("x2", function(d) { return x(d); })
      .attr("y1", top).attr("y2", bottom)
      .attr("stroke", "#555")
      .attr("stroke-width", 2.5)
      .attr("stroke-dasharray", "7,6");

  var series = panelData[r][c];
  line.x(function(d) { return x(d[0]); }).y(function(d) { return y(d[1]); });

  var curves = g.append("g").attr("clip-path", "url(#" + clipId + ")");

  // 2nd heating (dashed) under 1st heating (solid)
  curves.selectAll(".h2")
    .data(series).enter().append("path")
      .attr("class", "h2")
      .attr("d", function(d) { return line(d[1]); })
      .attr("fill", "none")
      .attr("stroke", function(d, i) { return dashColors[r][c][i]; })
      .attr("stroke-width", 4.5)
      .attr("stroke-dasharray", "14,9");

  curves.selectAll(".h1")
    .data(series).enter().append("path")
      .attr("class", "h1")
      .attr("d", function(d) { return line(d[0]); })
      .attr("fill", "none")
      .attr("stroke", function(d, i) { return solidColors[r][c][i]; })
      .attr("stroke-width", 7.5)
      .attr("stroke-linejoin", "round");

  // loading labels sit on the end of each solid trace
  g.selectAll(".load")
    .data(series).enter().append("text")
      .attr("class", "load")
      .attr("x", x1 - 6)
      .attr("y", function(d) { return y(d[0][d[0].length - 1][1]) - 4; })
      .attr("text-anchor", "end")
      .style("font-family", softFont)
      .style("font-weight", 900)
      .style("font-size", "54px")
      .style("fill", "#1a1a1a")
      .text(function(d, i) { return loadings[i]; });

  g.append("text")
    .attr("x", x0 + 12)
    .attr("y", top + 70)
    .style("font-family", "'Liberation Sans', 'DejaVu Sans', sans-serif")
    .style("font-size", "60px")
    .style("fill", "#111")
    .text("\u2193exo");

  // axis
  var axisG = g.append("g").attr("transform", "translate(0," + bottom + ")");
  axisG.call(d3.axisBottom(x).tickValues(majorTicks).tickSize(26).tickSizeOuter(0).tickPadding(26));
  axisG.select(".domain").remove();
  axisG.selectAll(".tick line").attr("stroke", "#000").attr("stroke-width", 6);
  axisG.selectAll(".tick text")
    .style("font-family", boldFont)
    .style("font-weight", 700)
    .style("font-size", "66px")
    .style("fill", "#000");

  var minorG = g.append("g").attr("transform", "translate(0," + bottom + ")");
  minorG.call(d3.axisBottom(x).tickValues(minorTicks).tickSize(14).tickSizeOuter(0).tickFormat(""));
  minorG.select(".domain").remove();
  minorG.selectAll(".tick line").attr("stroke", "#000").attr("stroke-width", 6);

  // frame
  g.append("rect")
    .attr("x", x0).attr("y", top)
    .attr("width", x1 - x0).attr("height", panelH)
    .attr("fill", "none")
    .attr("stroke", "#000")
    .attr("stroke-width", 7);

  // x title
  var xt = g.append("text")
    .attr("x", (x0 + x1) / 2)
    .attr("y", bottom + 192)
    .attr("text-anchor", "middle")
    .style("font-family", boldFont)
    .style("font-weight", 700)
    .style("font-size", "73px")
    .style("fill", "#000");
  xt.append("tspan").text("Temperature [");
  xt.append("tspan").attr("dy", -28).style("font-size", "45px").text("o");
  xt.append("tspan").attr("dy", 28).text("C]");

  if (c == 0) {
    g.append("text")
      .attr("transform", "translate(95," + (top + panelH / 2) + ") rotate(-90)")
      .attr("dy", "0.35em")
      .attr("text-anchor", "middle")
      .style("font-family", boldFont)
      .style("font-weight", 700)
      .style("font-size", "76px")
      .style("fill", "#000")
      .text("Heat Flow [a.u.]");
  }
}

for (var r = 0; r < 3; r++) {
  svg.append("text")
    .attr("x", 1503)
    .attr("y", rowTitleY[r])
    .attr("dy", "0.35em")
    .attr("text-anchor", "middle")
    .style("font-family", softFont)
    .style("font-size", "62px")
    .style("fill", "#1a1a1a")
    .text(groups[r]);
  for (var c = 0; c < 2; c++) drawPanel(r, c);
}

// legend
var legend = svg.append("g").attr("class", "legend");
legend.append("line")
  .attr("x1", 1102).attr("x2", 1158).attr("y1", 3992).attr("y2", 3992)
  .attr("stroke", red).attr("stroke-width", 7);
legend.append("line")
  .attr("x1", 1607).attr("x2", 1663).attr("y1", 3992).attr("y2", 3992)
  .attr("stroke", red).attr("stroke-width", 4).attr("stroke-dasharray", "5,4");

var legendItems = [["1", "st", 1196], ["2", "nd", 1705]];
legendItems.forEach(function(it) {
  var t = legend.append("text")
    .attr("x", it[2]).attr("y", 4010)
    .style("font-family", softFont)
    .style("font-size", "66px")
    .style("fill", "#111");
  t.append("tspan").text(it[0]);
  t.append("tspan").attr("dy", -26).style("font-size", "40px").text(it[1]);
  t.append("tspan").attr("dy", 26).text(" Heating");
});
</script>
</body>
</html>
